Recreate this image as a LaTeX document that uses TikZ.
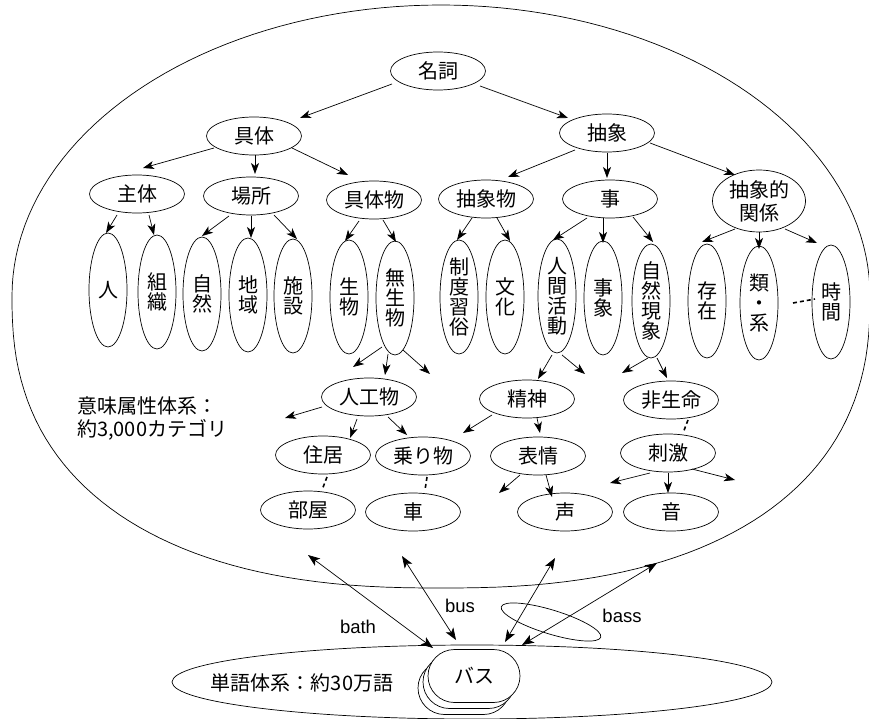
\documentclass[tikz,border=0pt]{standalone}
\usepackage{fontspec}
\setmainfont{Liberation Sans}
\newfontfamily\cjkf{Noto Sans CJK JP}
\usetikzlibrary{shapes.geometric,shapes.misc,arrows.meta,calc}
\tikzset{
  base/.style={line width=0.7pt},
  oval/.style={draw, ellipse, inner sep=0pt, line width=0.7pt, align=center,
    font={\cjkf\fontsize{20pt}{20pt}\selectfont}},
  hov/.style={oval, minimum width=95pt, minimum height=38pt},
  vov/.style={oval, minimum width=38pt, minimum height=114pt},
  arr/.style={line width=0.7pt, -{Stealth[length=11pt,width=8pt,inset=3pt]}},
  darr/.style={line width=0.7pt, {Stealth[length=12pt,width=9pt,inset=3pt]}-{Stealth[length=12pt,width=9pt,inset=3pt]}},
  dlink/.style={line width=1.6pt, dash pattern=on 4pt off 3pt},
  lbl/.style={font={\fontsize{18.5pt}{20pt}\selectfont}},
  jlbl/.style={font={\cjkf\fontsize{20pt}{23pt}\selectfont}, inner sep=0pt},
  busbox/.style={rounded rectangle, draw, fill=white, line width=0.7pt,
    minimum width=92pt, minimum height=53pt, inner sep=0pt,
    font={\cjkf\fontsize{20pt}{20pt}\selectfont}},
}
\newcommand\arrc[4]{\draw[arr] ($(#1)+(#2)$) -- ($(#3)+(#4)$);}
\begin{document}
\begin{tikzpicture}[x=1pt,y=-1pt]
\useasboundingbox (0,0) rectangle (869,719);

% outer semantic-attribute region: elliptic top, fuller bottom
\draw[base] plot[domain=0:180, samples=91, variable=\t] ({441+429*cos(\t)}, {296-291*sin(\t)})
  -- plot[domain=181:359, samples=90, variable=\t]
     ({441+429*sign(cos(\t))*abs(cos(\t))^(0.8333)}, {296+292*abs(sin(\t))^(0.8333)}) -- cycle;

% level 0-2
\node[hov] (meishi) at (438,71) {名詞};
\node[hov] (gutai) at (254,136) {具体};
\node[hov] (chusho) at (607,133) {抽象};
\node[hov] (shutai) at (137,194) {主体};
\node[hov] (basho) at (251,196) {場所};
\node[hov] (gutaibutsu) at (374,200) {具体物};
\node[hov] (chushobutsu) at (486,199) {抽象物};
\node[hov] (koto) at (610,199) {事};
\node[hov, minimum width=93pt, minimum height=62pt, font={\cjkf\fontsize{20pt}{23pt}\selectfont}] (kankei) at (759,201) {抽象的\\関係};

% vertical ovals
\node[vov] (hito) at (108,290) {人};
\node[vov] (soshiki) at (157,292) {組\\織};
\node[vov] (shizen) at (202,294) {自\\然};
\node[vov] (chiiki) at (248,295) {地\\域};
\node[vov] (shisetsu) at (293,296) {施\\設};
\node[vov] (seibutsu) at (349,297) {生\\物};
\node[vov] (museibutsu) at (395,298) {無\\生\\物};
\node[vov] (seido) at (459,297) {制\\度\\習\\俗};
\node[vov] (bunka) at (505,297) {文\\化};
\node[vov] (ningen) at (557,296) {人\\間\\活\\動};
\node[vov] (jisho) at (603,298) {事\\象};
\node[vov] (shizengensho) at (651,301) {自\\然\\現\\象};
\node[vov] (sonzai) at (707,301) {存\\在};
\node[vov] (rui) at (759,303) {類\\・\\系};
\node[vov] (jikan) at (831,302) {時\\間};

% lower levels
\node[hov] (jinkou) at (369,397) {人工物};
\node[hov] (seishin) at (527,399) {精神};
\node[hov] (hiseimei) at (671,400) {非生命};
\node[hov] (jukyo) at (323,455) {住居};
\node[hov] (norimono) at (423,456) {乗り物};
\node[hov] (hyojo) at (538,456) {表情};
\node[hov] (shigeki) at (668,453) {刺激};
\node[hov] (heya) at (308,510) {部屋};
\node[hov] (kuruma) at (413,512) {車};
\node[hov] (koe) at (565,512) {声};
\node[hov] (oto) at (671,512) {音};

\node[jlbl, anchor=west, align=left] (imilbl) at (77,418) {意味属性体系：\\約3,000カテゴリ};

% free ends
\coordinate (f1) at (353,367);
\coordinate (f2) at (430,374);
\coordinate (f3) at (585,374);
\coordinate (f4) at (622,373);
\coordinate (f5) at (285,418);
\coordinate (f6) at (463,433);
\coordinate (f7) at (499,493);
\coordinate (f8) at (610,483);
\coordinate (f9) at (735,480);

% tree arrows
\arrc{meishi}{-46,13}{gutai}{46,-18}
\arrc{meishi}{42,15}{chusho}{-39,-15}
\arrc{gutai}{-40,12}{shutai}{6,-26}
\arrc{gutai}{1,19}{basho}{4,-22}
\arrc{gutai}{38,12}{gutaibutsu}{-26,-25}
\arrc{chusho}{-32,17}{chushobutsu}{22,-22}
\arrc{chusho}{0,20}{koto}{-3,-21}
\arrc{chusho}{43,10}{kankei}{-24,-26}
\arrc{shutai}{-20,21}{hito}{-2,-57}
\arrc{shutai}{12,21}{soshiki}{-3,-57}
\arrc{basho}{-22,20}{shizen}{0,-58}
\arrc{basho}{0,20}{chiiki}{3,-57}
\arrc{basho}{23,19}{shisetsu}{4,-57}
\arrc{gutaibutsu}{-15,21}{seibutsu}{-4,-56}
\arrc{gutaibutsu}{9,20}{museibutsu}{1,-56}
\arrc{chushobutsu}{-14,19}{seido}{-2,-57}
\arrc{chushobutsu}{11,19}{bunka}{5,-56}
\arrc{koto}{-23,19}{ningen}{-4,-56}
\arrc{koto}{-7,19}{jisho}{0,-55}
\arrc{koto}{23,18}{shizengensho}{2,-59}
\arrc{kankei}{-24,28}{sonzai}{-5,-59}
\arrc{kankei}{0,31}{rui}{0,-54}
\arrc{kankei}{26,28}{jikan}{-14,-59}

\draw[arr] ($(museibutsu)+(-13,49)$) -- (f1);
\arrc{museibutsu}{-7,56}{jinkou}{16,-22}
\draw[arr] ($(museibutsu)+(8,52)$) -- (f2);
\arrc{ningen}{-5,59}{seishin}{11,-20}
\draw[arr] ($(ningen)+(5,59)$) -- (f3);
\draw[arr] ($(shizengensho)+(-3,57)$) -- (f4);
\arrc{shizengensho}{6,57}{hiseimei}{-4,-22}
\draw[arr] ($(jinkou)+(-47,10)$) -- (f5);
\arrc{jinkou}{-12,22}{jukyo}{27,-17}
\arrc{jinkou}{19,20}{norimono}{-16,-21}
\draw[arr] ($(seishin)+(-35,16)$) -- (f6);
\arrc{seishin}{10,19}{hyojo}{2,-23}
\draw[arr] ($(hyojo)+(-18,19)$) -- (f7);
\arrc{hyojo}{8,19}{koe}{-13,-15}
\draw[arr] ($(shigeki)+(-18,20)$) -- (f8);
\arrc{shigeki}{0,20}{oto}{-3,-19}
\draw[arr] ($(shigeki)+(24,16)$) -- (f9);

% dashed links
\draw[dlink] ($(jukyo)+(4,22)$) -- ($(heya)+(14,-20)$);
\draw[dlink] ($(norimono)+(4,21)$) -- ($(kuruma)+(12,-22)$);
\draw[dlink] ($(hiseimei)+(17,20)$) -- ($(shigeki)+(15,-20)$);
\draw[dlink] ($(rui)+(34,0)$) -- ($(jikan)+(-16,-3)$);

% word system
\node[draw, ellipse, base, minimum width=600pt, minimum height=74pt, inner sep=0pt] (tango) at (472,682) {};
\node[jlbl] (tangolbl) at (302,683) {単語体系：約30万語};
\node[draw, ellipse, base, minimum width=104pt, minimum height=24pt, inner sep=0pt, rotate=-17] (bassov) at (551,622) {};
\node[busbox] (bus3) at (464,688) {};
\node[busbox] (bus2) at (469,682) {};
\node[busbox] (bus1) at (474,676) {バス};

\coordinate (t1) at (308,555);
\coordinate (t2) at (402,556);
\coordinate (t3) at (555,558);
\coordinate (t4) at (657,563);
\draw[darr] (t1) -- ($(tango)+(-39,-34)$);
\draw[darr] (t2) -- ($(tango)+(-16,-42)$);
\draw[darr] (t3) -- ($(tango)+(33,-40)$);
\draw[darr] (t4) -- ($(tango)+(50,-37)$);

\node[lbl] (lbath) at (358,627) {bath};
\node[lbl] (lbus) at (460,606) {bus};
\node[lbl] (lbass) at (622,616) {bass};
\end{tikzpicture}
\end{document}
